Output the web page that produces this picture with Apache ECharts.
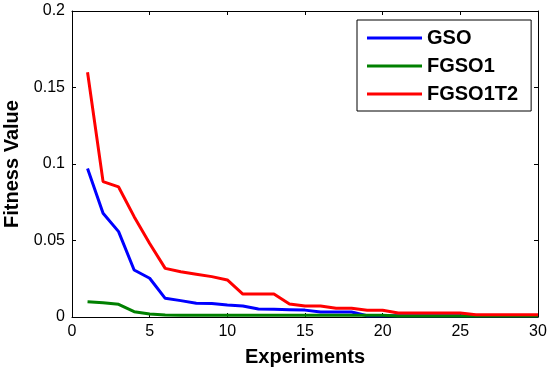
<!DOCTYPE html>
<html>
<head>
<meta charset="utf-8">
<script src="https://cdn.jsdelivr.net/npm/echarts@6/dist/echarts.min.js"></script>
<style>html,body{margin:0;padding:0;background:#fff;}#c{width:550px;height:370px;}</style>
</head>
<body>
<div id="c"></div>
<script>
var experiments = [1,2,3,4,5,6,7,8,9,10,11,12,13,14,15,16,17,18,19,20,21,22,23,24,25,26,27,28,29,30];
var gso = [0.097,0.0678,0.0558,0.0307,0.0253,0.0122,0.0107,0.009,0.0088,0.0078,0.0072,0.0052,0.005,0.0048,0.0045,0.0033,0.0033,0.0033,0.0008,0.0008,0.0008,0.0008,0.0008,0.0008,0.0008,0.0008,0.0008,0.0008,0.0008,0.0008];
var fgso1 = [0.01,0.0093,0.0083,0.0035,0.002,0.0013,0.0012,0.0012,0.0012,0.0012,0.0012,0.0012,0.0012,0.0012,0.0012,0.0012,0.0012,0.0012,0.0012,0.0012,0.0007,0.0007,0.0007,0.0007,0.0007,0.0007,0.0007,0.0007,0.0007,0.0007];
var fgso1t2 = [0.16,0.0885,0.085,0.0656,0.048,0.0318,0.0296,0.028,0.0264,0.0242,0.015,0.015,0.015,0.0085,0.0072,0.0072,0.0057,0.0057,0.0044,0.0044,0.0026,0.0026,0.0026,0.0026,0.0026,0.0015,0.0015,0.0015,0.0015,0.0015];
var seriesNames = ['GSO','FGSO1','FGSO1T2'];
var seriesColors = ['#0000ff','#008000','#ff0000'];
var xTitle = 'Experiments';
var yTitle = 'Fitness Value';

function pairs(vals){ return experiments.map(function(x,i){ return [x, vals[i]]; }); }
var font = 'Arial, "Liberation Sans", sans-serif';
var chart = echarts.init(document.getElementById('c'), null, {renderer:'canvas'});
var axisLine = {show:true, onZero:false, lineStyle:{color:'#000', width:1}};
var axisTick = {show:true, inside:true, length:4, lineStyle:{color:'#000'}};
chart.setOption({
  animation:false,
  backgroundColor:'#fff',
  grid:{left:72, right:12, top:11, bottom:53, containLabel:false, outerBoundsMode:'none'},
  legend:{
    data:seriesNames, orient:'vertical', left:357, top:20,
    backgroundColor:'#fff', borderColor:'#000', borderWidth:1, borderRadius:0,
    padding:[8,13,7,10], itemGap:8, itemWidth:55, itemHeight:3, icon:'rect',
    textStyle:{fontFamily:font, fontWeight:'bold', fontSize:20, color:'#000'}
  },
  xAxis:[{
    type:'value', min:0, max:30, interval:5, position:'bottom',
    axisLine:axisLine, axisTick:axisTick, splitLine:{show:false},
    axisLabel:{color:'#000', fontFamily:font, fontSize:16, margin:7},
    name:xTitle, nameLocation:'middle', nameGap:30,
    nameTextStyle:{color:'#000', fontFamily:font, fontWeight:'bold', fontSize:20}
  },{
    type:'value', min:0, max:30, interval:5, position:'top',
    axisLine:axisLine, axisTick:axisTick, splitLine:{show:false}, axisLabel:{show:false}
  }],
  yAxis:[{
    type:'value', min:0, max:0.2, interval:0.05, position:'left',
    axisLine:axisLine, axisTick:axisTick, splitLine:{show:false},
    axisLabel:{color:'#000', fontFamily:font, fontSize:16, margin:7},
    name:yTitle, nameLocation:'middle', nameGap:48,
    nameTextStyle:{color:'#000', fontFamily:font, fontWeight:'bold', fontSize:20}
  },{
    type:'value', min:0, max:0.2, interval:0.05, position:'right',
    axisLine:axisLine, axisTick:axisTick, splitLine:{show:false}, axisLabel:{show:false}
  }],
  series:[gso, fgso1, fgso1t2].map(function(v,i){
    return {name:seriesNames[i], type:'line', data:pairs(v), showSymbol:false, symbol:'none',
      color:seriesColors[i], lineStyle:{width:3, color:seriesColors[i]}, xAxisIndex:0, yAxisIndex:0};
  })
});
</script>
</body>
</html>
